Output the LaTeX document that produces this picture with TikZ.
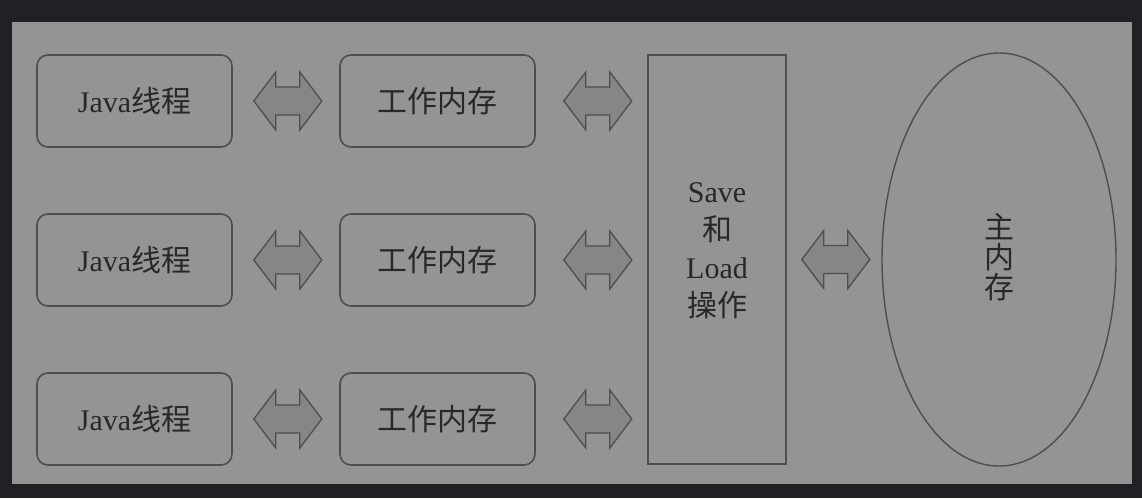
\documentclass[tikz,border=0pt]{standalone}
\usepackage{fontspec}
\setmainfont{Liberation Serif}
\newfontfamily\cjk{Noto Sans CJK SC}
\usetikzlibrary{calc,shapes.geometric}

\definecolor{frame}{HTML}{202124}
\definecolor{panel}{HTML}{949494}
\definecolor{ink}{HTML}{282828}
\definecolor{edge}{HTML}{4E4E4E}
\definecolor{arrowfill}{HTML}{868686}

\tikzset{
  txt/.style={text=ink, font=\fontsize{30}{38}\selectfont, inner sep=0pt},
  rbox/.style={txt, draw=edge, line width=1.6pt, rounded corners=11pt,
               minimum width=195pt, minimum height=92pt},
  slbox/.style={draw=edge, line width=1.6pt,
                minimum width=138pt, minimum height=409pt},
  mainmem/.style={draw=edge, line width=1.4pt, ellipse, inner sep=0pt,
                  minimum width=234pt, minimum height=413pt},
  biarrowstyle/.style={fill=arrowfill, draw=edge, line width=1.3pt, line join=miter},
}

% Double-headed block arrow starting #3 units right of node #1, pointing at node #2
\newcommand\biarrow[3]{%
  \filldraw[biarrowstyle] ($(#1.east)+(#3,0)$) -- ++(22,-29) -- ++(0,15) -- ++(24,0)
    -- ++(0,-15) -- ++(22,29) -- ++(-22,29) -- ++(0,-15) -- ++(-24,0)
    -- ++(0,15) -- cycle;}

\begin{document}
\begin{tikzpicture}[x=1pt,y=-1pt]
  \useasboundingbox (0,0) rectangle (1142,498);
  \fill[frame] (0,0) rectangle (1142,498);
  \fill[panel] (12,22) rectangle (1132,484);

  % Java threads
  \node[rbox] (j1) at (134.5,101) {Java{\cjk 线程}};
  \node[rbox] (j2) at (134.5,260) {Java{\cjk 线程}};
  \node[rbox] (j3) at (134.5,419) {Java{\cjk 线程}};

  % working memories
  \node[rbox] (w1) at (437.5,101) {\cjk 工作内存};
  \node[rbox] (w2) at (437.5,260) {\cjk 工作内存};
  \node[rbox] (w3) at (437.5,419) {\cjk 工作内存};

  % save / load operations
  \node[slbox, label={[txt, align=center, yshift=9pt]center:Save\\{\cjk 和}\\Load\\{\cjk 操作}}]
    (sl) at (717,259.5) {};

  % main memory
  \node[mainmem, label={[txt, font=\fontsize{30}{30}\selectfont\cjk, align=center, yshift=2.5pt]center:主\\内\\存}]
    (mm) at (999,259.5) {};

  % exchanges
  \biarrow{j1}{w1}{21}
  \biarrow{j2}{w2}{21}
  \biarrow{j3}{w3}{21}
  \biarrow{w1}{sl}{28}
  \biarrow{w2}{sl}{28}
  \biarrow{w3}{sl}{28}
  \biarrow{sl}{mm}{15}
\end{tikzpicture}
\end{document}
